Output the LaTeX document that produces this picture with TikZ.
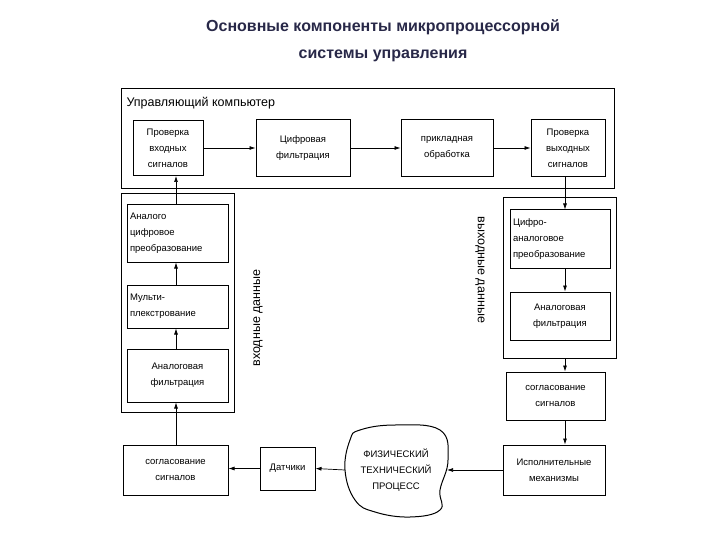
\documentclass[tikz,border=0pt]{standalone}
\usepackage{fontspec}
\setmainfont{Liberation Sans}
\usetikzlibrary{arrows.meta}
\definecolor{ttl}{RGB}{40,40,72}
\begin{document}
\begin{tikzpicture}[x=1pt,y=-1pt,
  blk/.style={draw,line width=1pt,inner sep=0pt,font=\fontsize{9.5}{16}\selectfont,align=center},
  grp/.style={draw,line width=0.8pt},
  arr/.style={-{Latex[length=6pt,width=4pt]},line width=0.7pt}]
\useasboundingbox (0,0) rectangle (720,540);
\node[font=\bfseries\fontsize{16}{27}\selectfont,text=ttl,align=center] (title) at (383,41) {Основные компоненты микропроцессорной\\системы управления};
% computer
\draw[grp] (121,88) rectangle (614,188);
\node[anchor=west,font=\fontsize{12.5}{14}\selectfont] (comp) at (123,103) {Управляющий компьютер};
\node[blk,minimum width=70pt,minimum height=55pt] (a1) at (168,148) {Проверка\\входных\\сигналов};
\node[blk,minimum width=94pt,minimum height=57pt] (a2) at (303,148) {Цифровая\\фильтрация};
\node[blk,minimum width=92pt,minimum height=57pt] (a3) at (447,148) {прикладная\\обработка};
\node[blk,minimum width=74pt,minimum height=57pt] (a4) at (568,148) {Проверка\\выходных\\сигналов};
\draw[arr] (a1) -- (a2); \draw[arr] (a2) -- (a3); \draw[arr] (a3) -- (a4);
% left group
\draw[grp] (121,193) rectangle (234,412);
\node[blk,minimum width=101pt,minimum height=57pt,align=left,text width=95pt] (adc) at (177.5,233.5) {Аналого\\цифровое\\преобразование};
\node[blk,minimum width=101pt,minimum height=43pt,align=left,text width=95pt] (mux) at (177.5,306.5) {Мульти-\\плекстрование};
\node[blk,minimum width=101pt,minimum height=53pt] (af1) at (177.5,375.5) {Аналоговая\\фильтрация};
\draw[arr] (af1.north -| 176,0) -- (mux.south -| 176,0); \draw[arr] (mux.north -| 176,0) -- (adc.south -| 176,0);
\draw[arr] (adc.north -| 176,0) -- (a1.south -| 176,0);
\node[rotate=90,font=\fontsize{12.5}{14}\selectfont] (in) at (258,318) {входные данные};
% right group
\draw[grp] (503,197) rectangle (616,358);
\node[blk,minimum width=100pt,minimum height=58pt,align=left,text width=94pt] (dac) at (560,239) {Цифро-\\аналоговое\\преобразование};
\node[blk,minimum width=100pt,minimum height=48pt] (af2) at (560,316) {Аналоговая\\фильтрация};
\coordinate (g2) at (565,358);
\draw[arr] (a4.south -| 565,0) -- (dac.north -| 565,0);
\draw[arr] (dac.south -| 565,0) -- (af2.north -| 565,0);
\node[rotate=-90,font=\fontsize{12.5}{14}\selectfont] (out) at (480,270) {выходные данные};
\node[blk,minimum width=99pt,minimum height=48pt] (sg2) at (555.5,396) {согласование\\сигналов};
\draw[arr] (g2) -- (g2 |- sg2.north);
\node[blk,minimum width=102pt,minimum height=50pt] (act) at (554,470) {Исполнительные\\механизмы};
\draw[arr] (sg2.south -| 565,0) -- (act.north -| 565,0);
% bottom
\node[blk,minimum width=105pt,minimum height=50pt] (sg1) at (175.5,470) {согласование\\сигналов};
\node[blk,minimum width=55pt,minimum height=43pt] (sens) at (287.5,468.5) {Датчики};
\draw[line width=1pt] plot[smooth cycle,tension=0.7] coordinates {(360,430) (395,425) (440,430) (448,460) (440,490) (440,510) (410,517) (375,512) (355,500) (345,470) (350,440)};
\node[font=\fontsize{9.5}{16}\selectfont,align=center] (proc) at (396,470) {ФИЗИЧЕСКИЙ\\ТЕХНИЧЕСКИЙ\\ПРОЦЕСС};
\coordinate (pr) at (447,470); \coordinate (pl) at (345,470);
\draw[arr] (act.west) -- (pr);
\draw[arr] (pl) -- (sens.east);
\draw[arr] (sens.west) -- (sens.west -| sg1.east);
\draw[arr] (sg1.north -| 176,0) -- (af1.south -| 176,0);
\end{tikzpicture}
\end{document}
